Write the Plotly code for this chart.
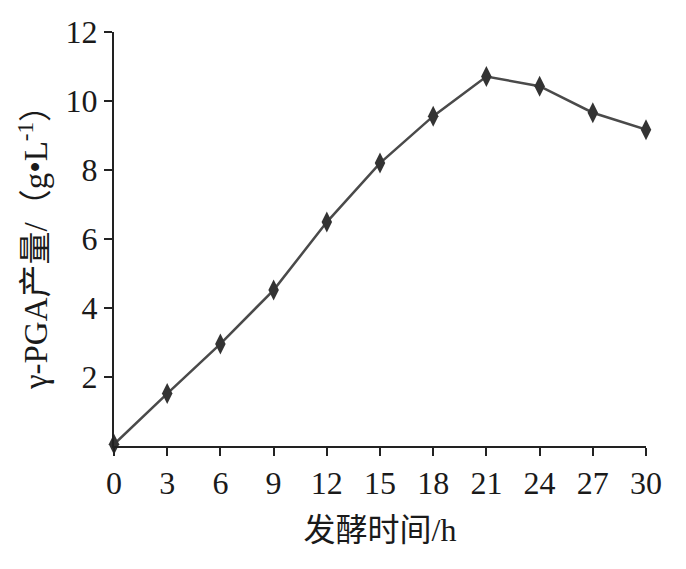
import plotly.graph_objects as go

time_h = [0, 3, 6, 9, 12, 15, 18, 21, 24, 27, 30]
yield_gl = [0.05, 1.52, 2.96, 4.52, 6.49, 8.2, 9.56, 10.71, 10.43, 9.66, 9.17]
x_ticks = [0, 3, 6, 9, 12, 15, 18, 21, 24, 27, 30]
y_ticks = [2, 4, 6, 8, 10, 12]

font_fam = "Liberation Serif, Noto Sans CJK SC, serif"

fig = go.Figure()
fig.add_trace(go.Scatter(
    x=time_h, y=yield_gl, mode="lines+markers",
    line=dict(color="#4a4a4a", width=2.5),
    marker=dict(symbol="diamond-tall", size=15, color="#333333"),
    cliponaxis=False, showlegend=False,
))

fig.update_layout(
    width=686, height=569,
    margin=dict(l=106, r=48, t=24, b=131),
    paper_bgcolor="white", plot_bgcolor="white",
    font=dict(family=font_fam, size=32, color="#1a1a1a"),
    xaxis=dict(
        range=[0, 30], tickvals=x_ticks, ticktext=[str(v) for v in x_ticks],
        showgrid=False, zeroline=False, showline=True, linecolor="#222", linewidth=2,
        ticks="outside", ticklen=8, tickwidth=2, tickcolor="#222",
        automargin=False,
        title=dict(text="发酵时间/h", font=dict(size=32), standoff=18),
    ),
    yaxis=dict(
        range=[0, 12], tickvals=y_ticks, ticktext=[str(v) for v in y_ticks],
        showgrid=False, zeroline=False, showline=True, linecolor="#222", linewidth=2,
        ticks="outside", ticklen=8, tickwidth=2, tickcolor="#222",
        automargin=False,
        title=dict(text="γ-PGA产量/（g•L<sup>-1</sup>）", font=dict(size=33), standoff=8),
    ),
)

fig.write_html("out.html")
